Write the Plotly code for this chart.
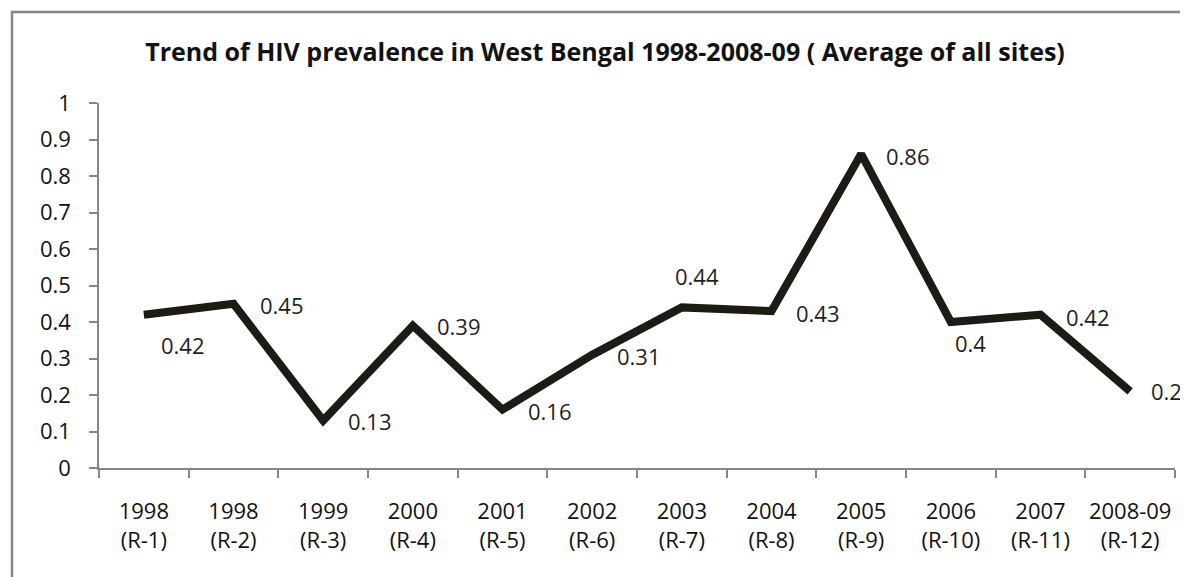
import plotly.graph_objects as go

# ---- data ----
years = ["1998", "1998", "1999", "2000", "2001", "2002", "2003", "2004", "2005", "2006", "2007", "2008-09"]
rounds = ["(R-1)", "(R-2)", "(R-3)", "(R-4)", "(R-5)", "(R-6)", "(R-7)", "(R-8)", "(R-9)", "(R-10)", "(R-11)", "(R-12)"]
prevalence = [0.42, 0.45, 0.13, 0.39, 0.16, 0.31, 0.44, 0.43, 0.86, 0.4, 0.42, 0.21]
value_labels = ["0.42", "0.45", "0.13", "0.39", "0.16", "0.31", "0.44", "0.43", "0.86", "0.4", "0.42", "0.21"]
title_text = "Trend of HIV prevalence in West Bengal 1998-2008-09 ( Average of all sites)"

categories = [f"{y}<br>{r}" for y, r in zip(years, rounds)]

# label placement styles (pixel offsets from the point: right, down)
label_offsets = [(15, 30), (24, 1), (23, 0), (22, 0), (23, 1), (23, 1),
                 (-9, -31), (22, 2), (23, 2), (2, 21), (23, 2), (19, 0)]

FONT = "Open Sans"
OFF = 8  # page body margin in the browser
VW, VH = 1188, 577
W, H = VW - OFF, VH - OFF
ML, MT = 99 - OFF, 103 - OFF
MR = W - (1175 - OFF)
MB = H - (468 - OFF)

fig = go.Figure()
fig.add_trace(go.Scatter(
    x=categories, y=prevalence, mode="lines",
    line=dict(color="#1e1b14", width=8),
    hoverinfo="skip", showlegend=False,
))

annotations = []
for cat, val, lab, (dx, dy) in zip(categories, prevalence, value_labels, label_offsets):
    annotations.append(dict(
        x=cat, y=val, xref="x", yref="y", text=lab, showarrow=False,
        xanchor="left", yanchor="middle", xshift=dx, yshift=-dy,
        font=dict(family=FONT, size=22, color="#1f1f1f"),
    ))

plot_w = W - ML - MR
plot_h = H - MT - MB
# outer chart frame (left and top edges visible, others fall outside the view)
x0 = ((12 - OFF) - ML) / plot_w
y1 = 1 + (MT - (12 - OFF)) / plot_h

fig.update_layout(
    width=W, height=H,
    margin=dict(l=ML, r=MR, t=MT, b=MB, pad=0),
    paper_bgcolor="white", plot_bgcolor="white",
    title=dict(text="<b>" + title_text + "</b>", x=(605 - OFF) / W, xanchor="center",
               y=1 - (52 - OFF) / H, yanchor="middle",
               font=dict(family=FONT, size=25, color="#111111")),
    xaxis=dict(type="category", range=[-0.5, 11.5], tickson="boundaries",
               showline=True, linecolor="#868686", linewidth=1.5,
               ticks="outside", ticklen=8, tickcolor="#868686", tickwidth=1.5,
               showgrid=False, zeroline=False, ticklabelstandoff=23,
               tickfont=dict(family=FONT, size=22, color="#111111"), tickangle=0),
    yaxis=dict(range=[0, 1], dtick=0.1, tick0=0,
               showline=True, linecolor="#868686", linewidth=1.5,
               ticks="outside", ticklen=8, tickcolor="#868686", tickwidth=1.5,
               showgrid=False, zeroline=False, ticklabelstandoff=14,
               tickfont=dict(family=FONT, size=22, color="#111111")),
    annotations=annotations,
    shapes=[dict(type="rect", xref="paper", yref="paper",
                 x0=x0, x1=1.1, y0=-0.5, y1=y1,
                 line=dict(color="#858585", width=2.5), layer="below")],
)

fig.write_html("out.html")
